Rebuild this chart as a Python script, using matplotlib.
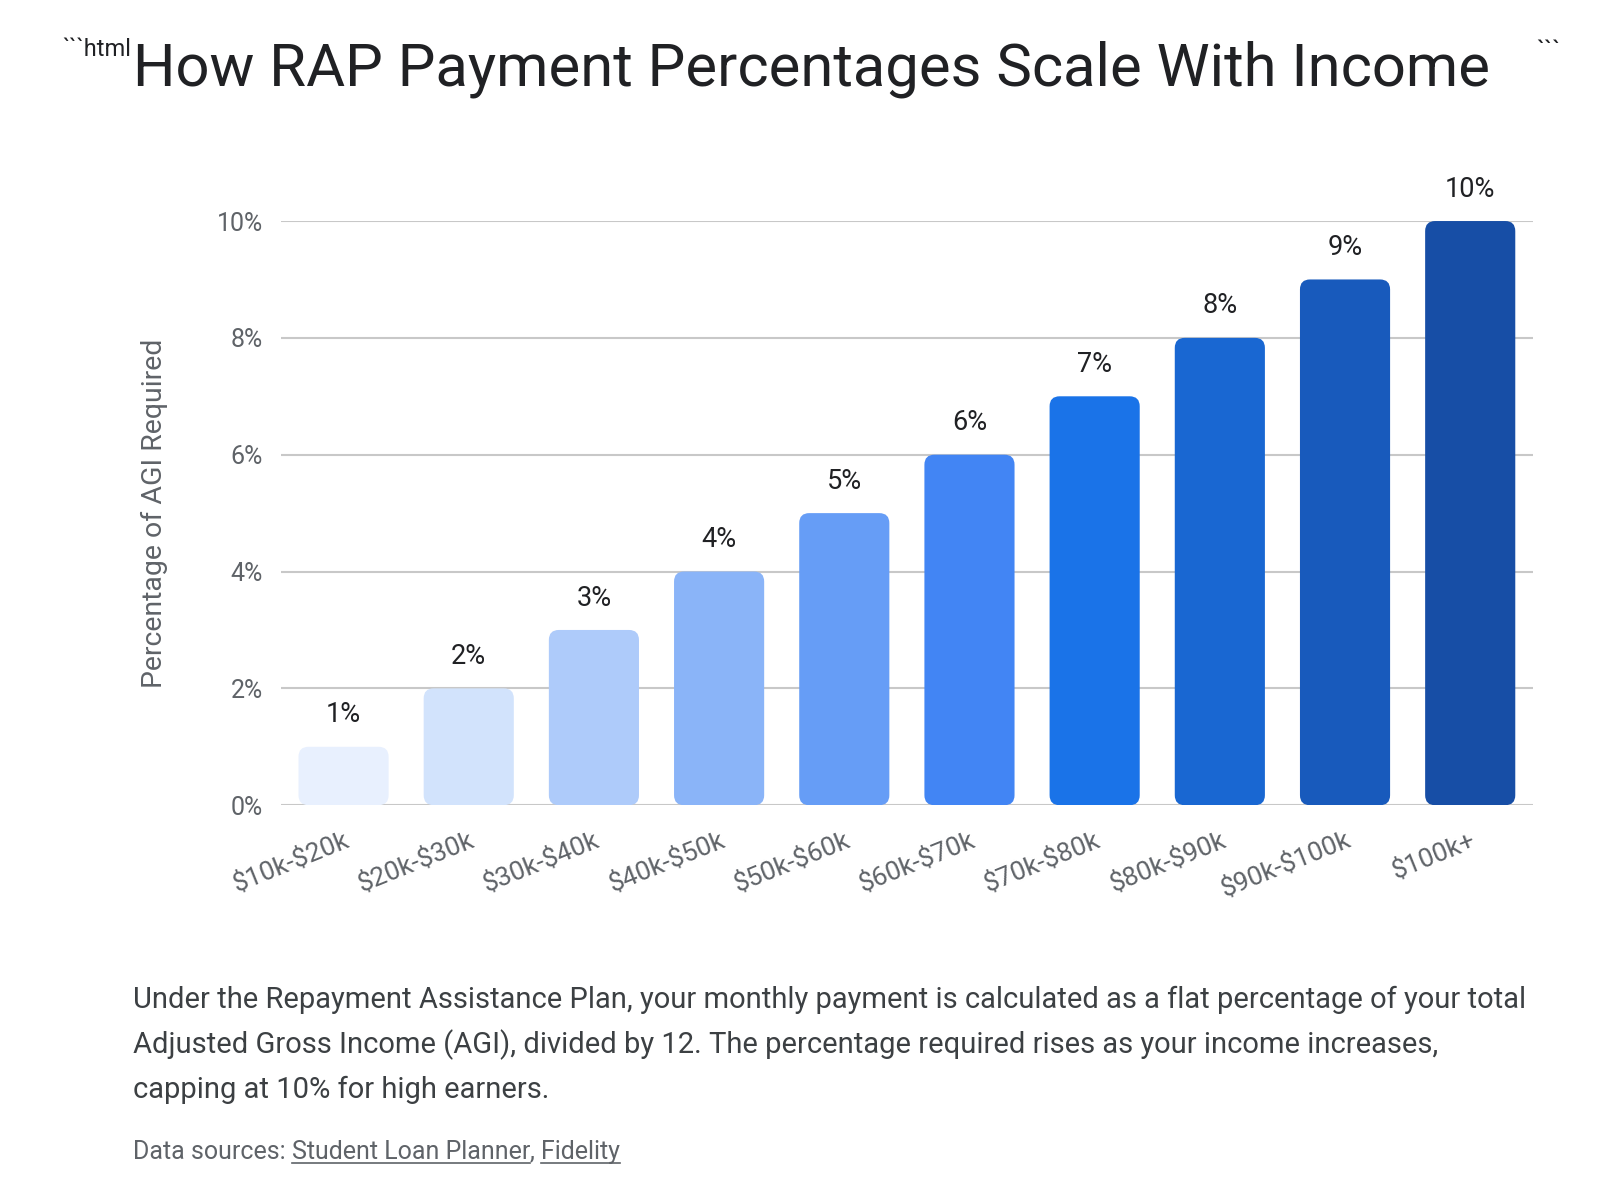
import matplotlib.pyplot as plt
from matplotlib.patches import FancyBboxPatch
from matplotlib.lines import Line2D

# Dados do gráfico
faixas = ['$10k-$20k', '$20k-$30k', '$30k-$40k', '$40k-$50k', '$50k-$60k',
          '$60k-$70k', '$70k-$80k', '$80k-$90k', '$90k-$100k', '$100k+']
percentuais = [1, 2, 3, 4, 5, 6, 7, 8, 9, 10]
cores = ['#E8F0FE', '#D2E3FC', '#AECBFA', '#8AB4F8', '#669DF6',
         '#4285F4', '#1A73E8', '#1967D2', '#185ABC', '#174EA6']
ticks_y = [0, 2, 4, 6, 8, 10]

plt.rcParams['font.family'] = ['Roboto', 'DejaVu Sans']

fig = plt.figure(figsize=(16, 12), dpi=100)
ax = fig.add_axes([0.1756, 0.329, 0.7824, 0.4868])

# Barras (invisíveis) usadas só para a geometria; desenho com cantos arredondados
barras = ax.bar(range(len(faixas)), percentuais, width=0.72, alpha=0)
ax.set_xlim(-0.5, len(faixas) - 0.5)
ax.set_ylim(0, 10)

px_x = 1252 / 10.0   # pixels por unidade em x
px_y = 584 / 10.0    # pixels por unidade em y
raio = 10 / px_x
for b, c in zip(barras, cores):
    p = FancyBboxPatch((b.get_x(), 0), b.get_width(), b.get_height(),
                       boxstyle=f'round,pad=0,rounding_size={raio}',
                       mutation_aspect=px_x / px_y,
                       facecolor=c, edgecolor='none', zorder=3)
    ax.add_patch(p)
    ax.annotate(f'{b.get_height():.0f}%', (b.get_x() + b.get_width() / 2, b.get_height()),
                xytext=(0, 23), textcoords='offset points', ha='center', va='center',
                fontsize=19.5, color='#202124', annotation_clip=False)

# Grade e eixos
ax.set_yticks(ticks_y)
ax.set_yticklabels([f'{t}%' for t in ticks_y])
ax.grid(axis='y', color='#c8c8c8', linewidth=1.5, zorder=0)
ax.set_axisbelow(True)
for s in ax.spines.values():
    s.set_visible(False)
ax.tick_params(axis='y', length=0, pad=13, labelsize=18, labelcolor='#5f6368')
ax.tick_params(axis='x', length=0, pad=16, labelsize=19, labelcolor='#5f6368')
ax.set_xticks(range(len(faixas)))
ax.set_xticklabels(faixas, rotation=22, ha='right', va='top', rotation_mode='anchor',
                   parse_math=False)

ax.set_ylabel('Percentage of AGI Required', fontsize=20.5, color='#5f6368')
ax.yaxis.set_label_coords(-0.09, 0.5)

# Título
fig.text(133 / 1600, 1 - 69 / 1200, 'How RAP Payment Percentages Scale With Income',
         fontsize=43, color='#202124', va='center', ha='left')
fig.text(131 / 1600, 1 - 38 / 1200, '```html', fontsize=17, color='#202124',
         va='top', ha='right')
fig.text(1548 / 1600, 1 - 40 / 1200, '```', fontsize=19, color='#202124',
         va='top', ha='center')

# Texto explicativo
linhas = ['Under the Repayment Assistance Plan, your monthly payment is calculated as a flat percentage of your total',
          'Adjusted Gross Income (AGI), divided by 12. The percentage required rises as your income increases,',
          'capping at 10% for high earners.']
for i, l in enumerate(linhas):
    fig.text(133 / 1600, 1 - (1000 + 45 * i) / 1200, l, fontsize=21, color='#3c4043',
             va='center', ha='left')

# Fontes (com sublinhado)
partes = [('Data sources: ', False), ('Student Loan Planner', True), (', ', False), ('Fidelity', True)]
fig.canvas.draw()
renderer = fig.canvas.get_renderer()
x0 = 133
y0 = 1200 - 1159
for txt, sub in partes:
    t = fig.text(x0 / 1600, y0 / 1200, txt, fontsize=18, color='#5f6368',
                 va='baseline', ha='left')
    bb = t.get_window_extent(renderer)
    if sub:
        fig.add_artist(Line2D([bb.x0 / 1600, bb.x1 / 1600],
                              [(y0 - 4) / 1200, (y0 - 4) / 1200],
                              transform=fig.transFigure, color='#5f6368', linewidth=1.2))
    x0 = bb.x1

fig.savefig('out.png', dpi=100)
